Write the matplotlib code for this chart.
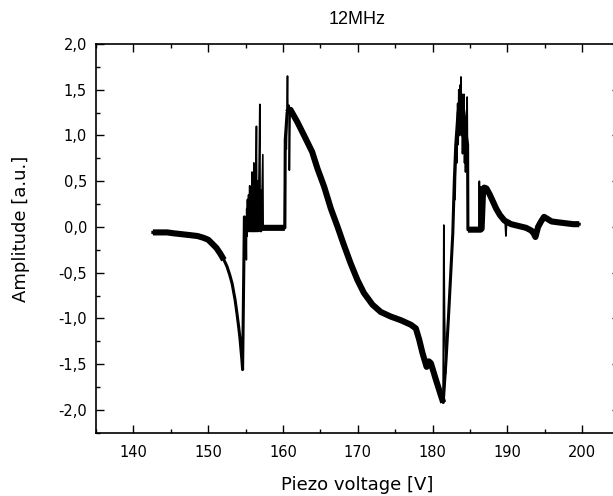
import numpy as np
import matplotlib.pyplot as plt
from matplotlib.ticker import MultipleLocator

# Main trace (centre of the noisy band)
volt = [142.6, 143.5, 144.5, 145.4, 146.5, 147.6, 148.6, 149.4, 150.0, 150.5,
        151.1, 151.6, 152.1, 152.5, 152.9, 153.2, 153.6, 153.85, 154.07, 154.25,
        154.38, 154.5, 154.6, 154.84, 154.95, 155.5, 156.5, 157.5, 158.5, 159.5,
        160.25, 160.3, 160.55, 161.0, 161.9, 163.0, 163.9, 164.6, 165.5, 166.4,
        167.3, 168.15, 169.05, 169.95, 170.8, 171.96, 173.07, 174.4, 175.75, 177.1,
        177.76, 178.2, 178.65, 179.2, 179.5, 179.77, 180.44, 181.1, 181.42, 181.8,
        182.1, 182.4, 182.7, 182.9, 183.1, 183.4, 183.8, 184.2, 184.5, 184.68,
        184.72, 185.2, 185.8, 186.4, 186.55, 186.75, 186.9, 187.2, 187.6, 188.0,
        188.5, 189.0, 189.6, 190.5, 191.5, 192.5, 193.2, 193.5, 193.75, 194.1,
        194.5, 194.9, 195.3, 195.9, 196.8, 197.8, 198.8, 199.6]
amp = [-0.06, -0.06, -0.06, -0.07, -0.08, -0.09, -0.10, -0.12, -0.14, -0.18,
       -0.23, -0.29, -0.36, -0.43, -0.53, -0.62, -0.80, -0.95, -1.09, -1.22,
       -1.34, -1.45, -1.56, 0.11, -0.02, -0.01, -0.01, -0.01, -0.01, -0.01,
       -0.01, 0.95, 1.25, 1.28, 1.15, 0.97, 0.82, 0.64, 0.44, 0.20,
       0.0, -0.20, -0.40, -0.58, -0.72, -0.85, -0.93, -0.98, -1.02, -1.07,
       -1.11, -1.23, -1.38, -1.53, -1.47, -1.49, -1.67, -1.84, -1.92, -1.45,
       -1.02, -0.55, -0.07, 0.50, 0.90, 1.25, 1.45, 1.25, 1.00, 0.90,
       -0.03, -0.03, -0.03, -0.03, -0.02, 0.40, 0.43, 0.42, 0.36, 0.29,
       0.20, 0.13, 0.07, 0.03, 0.01, -0.01, -0.04, -0.07, -0.11, 0.0,
       0.06, 0.11, 0.09, 0.06, 0.05, 0.04, 0.03, 0.03]

# Sharp spikes on top of the trace
spike_v = [154.95, 155.0, 155.05, 155.1, 155.15, 155.2, 155.25, 155.3, 155.4,
           155.45, 155.55, 155.6, 155.7, 155.75, 155.85, 155.9, 156.0, 156.05,
           156.1, 156.15, 156.25, 156.3, 156.45, 156.5, 156.6, 156.65, 156.8,
           156.9, 156.95, 157.05, 157.1, 157.3, 157.35,
           np.nan,
           160.2, 160.3, 160.45, 160.6, 160.65, 160.8, 160.85, 160.95, 161.1,
           np.nan,
           181.4, 181.5, 181.6, 181.75,
           np.nan,
           183.0, 183.15, 183.25, 183.35, 183.42, 183.5, 183.58, 183.65, 183.72,
           183.79, 183.86, 183.93, 184.0, 184.07, 184.14, 184.2, 184.27, 184.34,
           184.4, 184.47, 184.55, 184.62, 184.69, 184.73,
           np.nan,
           186.2, 186.25, 186.3, 186.45, 186.5, 186.55,
           np.nan,
           189.7, 189.8, 189.9]
spike_a = [-0.02, 0.10, -0.05, -0.36, 0.20, -0.10, 0.30, -0.05, 0.35,
           -0.05, 0.45, -0.05, 0.30, -0.05, 0.60, -0.05, 0.40, -0.05,
           0.70, -0.05, 0.50, -0.05, 1.10, -0.05, 0.50, -0.05, 0.60,
           1.34, -0.05, 0.40, -0.05, 0.79, -0.03,
           np.nan,
           0.0, 0.93, 0.85, 1.65, 1.25, 1.33, 0.62, 1.28, 1.22,
           np.nan,
           -1.90, 0.02, -1.00, -1.60,
           np.nan,
           0.30, 0.90, 0.70, 1.35, 0.90, 1.50, 1.00, 1.55, 1.10,
           1.64, 1.00, 1.45, 0.80, 1.40, 0.90, 1.45, 0.70, 1.20,
           0.60, 1.10, 0.65, 1.42, 0.50, -0.03,
           np.nan,
           -0.03, 0.50, -0.02, 0.44, 0.0, -0.03,
           np.nan,
           0.05, -0.10, 0.04]

yticks = [-2.0, -1.5, -1.0, -0.5, 0.0, 0.5, 1.0, 1.5, 2.0]
ylabels = ['-2,0', '-1,5', '-1,0', '-0,5', '0,0', '0,5', '1,0', '1,5', '2,0']
xticks = [140, 150, 160, 170, 180, 190, 200]

volt = np.array(volt)
amp = np.array(amp)
# flat / slow parts carry a wide noise band
noisy = ((volt < 152.2) | ((volt > 154.9) & (volt < 160.28))
         | ((volt > 160.5) & (volt < 181.5)) | (volt > 184.71))
band = np.where(noisy, amp, np.nan)

fig = plt.figure(figsize=(6.13, 4.96), dpi=100)
ax = fig.add_axes([96/613, 63.3/496, 523.6/613, 388.7/496])

ax.plot(volt, amp, color='black', lw=2.2, solid_joinstyle='round')
ax.plot(volt, band, color='black', lw=4.4, solid_joinstyle='round',
        solid_capstyle='butt')
ax.plot(spike_v, spike_a, color='black', lw=1.2)

ax.set_xlim(135, 205)
ax.set_ylim(-2.25, 2.0)
ax.set_xticks(xticks)
ax.set_yticks(yticks)
ax.set_yticklabels(ylabels)
ax.xaxis.set_minor_locator(MultipleLocator(5))
ax.yaxis.set_minor_locator(MultipleLocator(0.25))

ax.tick_params(which='both', direction='in', top=True, right=True,
               width=1.0, labelsize=10.5)
ax.tick_params(which='major', length=5.8)
ax.tick_params(which='minor', length=3.2)
ax.tick_params(axis='x', pad=8.5)
ax.tick_params(axis='y', pad=6.5)
for s in ax.spines.values():
    s.set_linewidth(1.2)

fig.text(357/613, 1 - 20/496, '12MHz', ha='center', va='center',
         fontsize=13, family='Liberation Sans')
fig.text(357/613, 1 - 485/496, 'Piezo voltage [V]', ha='center', va='center',
         fontsize=13, family='DejaVu Sans')
fig.text(21/613, 1 - 229/496, 'Amplitude [a.u.]', ha='center', va='center',
         rotation=90, fontsize=13, family='DejaVu Sans')

fig.savefig('out.png', dpi=100)
